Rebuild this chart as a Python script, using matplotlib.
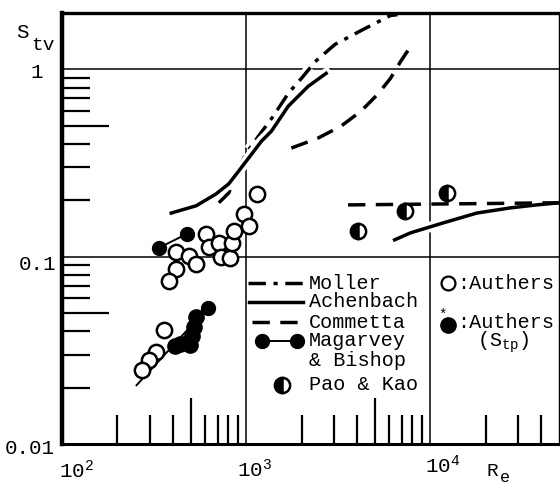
import matplotlib
matplotlib.use("Agg")
import matplotlib.pyplot as plt
import matplotlib.patheffects as pe
from matplotlib.ticker import FixedLocator, NullFormatter

plt.rcParams["font.family"] = ["Liberation Mono", "DejaVu Sans Mono"]
plt.rcParams["mathtext.fontset"] = "custom"
plt.rcParams["mathtext.rm"] = "Liberation Mono"
plt.rcParams["mathtext.it"] = "Liberation Mono"

# ---- curves: Reynolds number vs. S_tv ----
moller_re = [711, 805, 889, 994, 1167, 1405, 1693, 2040, 2370, 3037, 4405, 6085, 6635]
moller_s = [0.194, 0.219, 0.280, 0.353, 0.440, 0.562, 0.745, 0.918, 1.10, 1.36, 1.65, 1.94, 1.96]

achenbach_re = [392, 535, 685, 805, 912, 1031, 1212, 1372, 1693, 2172, 2718]
achenbach_s = [0.171, 0.187, 0.216, 0.245, 0.287, 0.336, 0.414, 0.468, 0.636, 0.812, 0.952]
achenbach2_re = [6400, 7800, 11880, 17900, 27000, 37750, 50000]
achenbach2_s = [0.123, 0.134, 0.152, 0.171, 0.182, 0.189, 0.194]

commetta_re = [1760, 2460, 3270, 4200, 5180, 6080, 6890, 8000]
commetta_s = [0.380, 0.430, 0.497, 0.598, 0.736, 0.896, 1.10, 1.37]
commetta2_re = [3575, 50000]
commetta2_s = [0.189, 0.194]

# ---- point data ----
magarvey_re = [337, 478]
magarvey_s = [0.1117, 0.1325]
magarvey2_re = [254, 620]
magarvey2_s = [0.0206, 0.0535]

pao_kao_re = [4037, 7330, 12360]
pao_kao_s = [0.1375, 0.176, 0.219]

authers_re = [418, 490, 536, 415, 382, 602, 628, 711, 726, 822, 838, 856, 970,
              1031, 1143, 359, 325, 298, 273]
authers_s = [0.106, 0.101, 0.0914, 0.0861, 0.0745, 0.132, 0.112, 0.119, 0.100,
             0.099, 0.118, 0.137, 0.169, 0.146, 0.216, 0.0404, 0.0309, 0.0280, 0.0248]

authers_tp_re = [535, 521, 508, 478, 438, 412, 496]
authers_tp_s = [0.0474, 0.0419, 0.0375, 0.0344, 0.0340, 0.0332, 0.0336]

# ---- figure ----
W, H = 560, 484
fig = plt.figure(figsize=(W / 100, H / 100), dpi=100)
ax = fig.add_axes([62 / W, 40 / H, 497 / W, 431 / H])
ax.set_xscale("log")
ax.set_yscale("log")
ax.set_xlim(100, 50000)
ax.set_ylim(0.01, 2.0)

# ticks: long ones at the 5s, short ones elsewhere, drawn inward
ax.xaxis.set_major_locator(FixedLocator([500, 5000]))
ax.xaxis.set_minor_locator(FixedLocator(
    [m * d for d in (100, 1000) for m in (2, 3, 4, 6, 7, 8, 9)] + [20000, 30000, 40000]))
ax.yaxis.set_major_locator(FixedLocator([0.05, 0.5]))
ax.yaxis.set_minor_locator(FixedLocator(
    [m * d for d in (0.01, 0.1) for m in (2, 3, 4, 6, 7, 8, 9)]))
for axis in (ax.xaxis, ax.yaxis):
    axis.set_major_formatter(NullFormatter())
    axis.set_minor_formatter(NullFormatter())
ax.tick_params(axis="x", which="major", direction="in", length=33, width=1.6)
ax.tick_params(axis="x", which="minor", direction="in", length=21, width=1.6)
ax.tick_params(axis="y", which="major", direction="in", length=34, width=1.6)
ax.tick_params(axis="y", which="minor", direction="in", length=20, width=1.6)
ax.tick_params(top=False, right=False, which="both")

ax.spines["left"].set_linewidth(3.2)
ax.spines["top"].set_linewidth(2.4)
ax.spines["bottom"].set_linewidth(2.2)
ax.spines["right"].set_linewidth(1.0)

# grid lines at the decades
for xv in (1000, 10000):
    ax.axvline(xv, color="black", lw=1.1, zorder=1)
for yv in (0.1, 1.0):
    ax.axhline(yv, color="black", lw=1.1, zorder=1)

halo = [pe.Stroke(linewidth=7.5, foreground="white"), pe.Normal()]
lw = 2.5
dashdot = (0, (5, 2.2, 1.2, 2.2))
dashed = (0, (5, 3))

ax.plot(moller_re, moller_s, color="black", lw=lw, ls=dashdot, path_effects=halo, zorder=2)
ax.plot(achenbach_re, achenbach_s, color="black", lw=lw, path_effects=halo, zorder=2)
ax.plot(achenbach2_re, achenbach2_s, color="black", lw=lw, path_effects=halo, zorder=2)
ax.plot(commetta_re, commetta_s, color="black", lw=lw, ls=dashed, path_effects=halo, zorder=2)
ax.plot(commetta2_re, commetta2_s, color="black", lw=lw, ls=dashed, zorder=2)

ax.plot(magarvey_re, magarvey_s, color="black", lw=1.4, marker="o", ms=10,
        mfc="black", mec="black", zorder=3)
ax.plot(magarvey2_re, magarvey2_s, color="black", lw=1.4, marker="o", ms=10,
        mfc="black", mec="black", markevery=[1], zorder=3)
ax.plot(authers_tp_re, authers_tp_s, ls="none", marker="o", ms=11,
        mfc="black", mec="black", zorder=4)
ax.plot(authers_re, authers_s, ls="none", marker="o", ms=11, mfc="white",
        mec="black", mew=1.8, zorder=5)
ax.plot(pao_kao_re, pao_kao_s, ls="none", marker="o", ms=11, fillstyle="left",
        mfc="black", mfcalt="white", mec="black", mew=1.8, zorder=5)

# ---- key, written into the lower grid cells ----
T = ax.transAxes
fs = 14.5
ax.plot([0.374, 0.485], [0.3735, 0.3735], transform=T, color="black", lw=lw, ls=dashdot)
ax.plot([0.377, 0.484], [0.3295, 0.3295], transform=T, color="black", lw=lw)
ax.plot([0.383, 0.484], [0.283, 0.283], transform=T, color="black", lw=lw, ls=dashed)
ax.plot([0.402, 0.473], [0.239, 0.239], transform=T, color="black", lw=1.4,
        marker="o", ms=10, mfc="black")
ax.plot([0.443], [0.137], transform=T, marker="o", ms=11, fillstyle="left",
        mfc="black", mfcalt="white", mec="black", mew=1.8)
ax.plot([0.777], [0.3735], transform=T, marker="o", ms=10, mfc="white",
        mec="black", mew=1.6)
ax.plot([0.777], [0.276], transform=T, marker="o", ms=11, mfc="black", mec="black")
ax.text(0.765, 0.300, "*", transform=T, fontsize=10, ha="center", va="center")

for txt, yy in (("Moller", 0.3735), ("Achenbach", 0.3295), ("Commetta", 0.283),
                ("Magarvey", 0.239), ("& Bishop", 0.1926), ("Pao & Kao", 0.137)):
    ax.text(0.497, yy, txt, transform=T, fontsize=fs, ha="left", va="center")
ax.text(0.795, 0.3735, ":Authers", transform=T, fontsize=fs, ha="left", va="center")
ax.text(0.795, 0.283, ":Authers", transform=T, fontsize=fs, ha="left", va="center")
ax.text(0.835, 0.236, r"$\mathregular{(S_{tp})}$", transform=T, fontsize=fs,
        ha="left", va="center")


# ---- axis labels ----
def ftext(px, py, s, **kw):
    fig.text(px / W, 1 - py / H, s, **kw)


ftext(22, 33, "S", fontsize=15, ha="center", va="center")
ftext(31, 46, "tv", fontsize=14, ha="left", va="center")
ftext(37, 73, "1", fontsize=15, ha="center", va="center")
ftext(37, 264, "0.1", fontsize=15, ha="center", va="center")
ftext(30, 449, "0.01", fontsize=15, ha="center", va="center")
ftext(59, 478, r"$\mathregular{10^2}$", fontsize=15, ha="left", va="baseline")
ftext(237, 477, r"$\mathregular{10^3}$", fontsize=15, ha="left", va="baseline")
ftext(425, 473, r"$\mathregular{10^4}$", fontsize=15, ha="left", va="baseline")
ftext(492, 472, "R", fontsize=14, ha="center", va="center")
ftext(505, 477, "e", fontsize=12, ha="center", va="center")

fig.savefig("out.png", dpi=100)
